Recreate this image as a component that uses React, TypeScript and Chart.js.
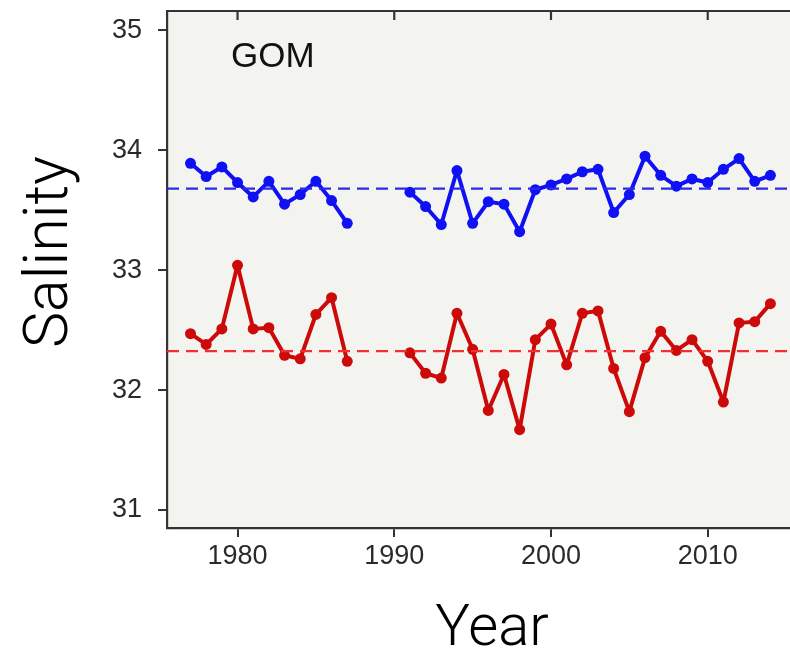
import React, { useEffect, useRef } from "react";
import { Chart, registerables } from "chart.js";

Chart.register(...registerables);

const YEARS = [
  1977, 1978, 1979, 1980, 1981, 1982, 1983, 1984, 1985, 1986, 1987,
  1988, 1989, 1990,
  1991, 1992, 1993, 1994, 1995, 1996, 1997, 1998, 1999, 2000,
  2001, 2002, 2003, 2004, 2005, 2006, 2007, 2008, 2009, 2010,
  2011, 2012, 2013, 2014,
];

const BLUE_SALINITY = [
  33.89, 33.78, 33.86, 33.73, 33.61, 33.74, 33.55, 33.63, 33.74, 33.58, 33.39,
  null, null, null,
  33.65, 33.53, 33.38, 33.83, 33.39, 33.57, 33.55, 33.32, 33.67, 33.71,
  33.76, 33.82, 33.84, 33.48, 33.63, 33.95, 33.79, 33.70, 33.76, 33.73,
  33.84, 33.93, 33.74, 33.79,
];

const RED_SALINITY = [
  32.47, 32.38, 32.51, 33.04, 32.51, 32.52, 32.29, 32.26, 32.63, 32.77, 32.24,
  null, null, null,
  32.31, 32.14, 32.10, 32.64, 32.34, 31.83, 32.13, 31.67, 32.42, 32.55,
  32.21, 32.64, 32.66, 32.18, 31.82, 32.27, 32.49, 32.33, 32.42, 32.24,
  31.90, 32.56, 32.57, 32.72,
];

const BLUE_MEAN = 33.68;
const RED_MEAN = 32.325;

const X_TICKS = [1980, 1990, 2000, 2010];
const Y_TICKS = [31, 32, 33, 34, 35];
const X_MIN = 1975.5;
const X_MAX = 2015.25;
const Y_MIN = 30.85;
const Y_MAX = 35.16;

const FRAME = "#333333";
const TEXT = "#2a2a2a";
const BLUE = "#1010f5";
const RED = "#cc0a0a";
const BLUE_DASH = "#2a2ae8";
const RED_DASH = "#f03030";
const TICK_FONT = { family: "'Liberation Sans', Arial, sans-serif", size: 27 };

export default function App() {
  const ref = useRef<HTMLCanvasElement | null>(null);

  useEffect(() => {
    if (!ref.current) return;

    const frame = {
      id: "frame",
      beforeDraw(chart: any) {
        const { ctx, chartArea } = chart;
        ctx.save();
        ctx.fillStyle = "#f3f4ef";
        ctx.fillRect(chartArea.left, chartArea.top, chartArea.right - chartArea.left, chartArea.bottom - chartArea.top);
        ctx.restore();
      },
      afterDraw(chart: any) {
        const { ctx, chartArea } = chart;
        const xs = chart.scales.x;
        ctx.save();
        ctx.strokeStyle = FRAME;
        ctx.lineWidth = 2.2;
        ctx.beginPath();
        ctx.moveTo(chartArea.left - 1, chartArea.top);
        ctx.lineTo(chartArea.right, chartArea.top);
        ctx.stroke();
        for (const t of X_TICKS) {
          const px = xs.getPixelForValue(t);
          ctx.beginPath();
          ctx.moveTo(px, chartArea.top);
          ctx.lineTo(px, chartArea.top + 9);
          ctx.stroke();
        }
        ctx.fillStyle = "#111";
        ctx.font = "35px 'Liberation Sans', Arial, sans-serif";
        ctx.textAlign = "left";
        ctx.textBaseline = "alphabetic";
        ctx.fillText("GOM", 231, 67);

        ctx.fillStyle = "#000";
        ctx.font = "300 58px Roboto, sans-serif";
        ctx.textAlign = "center";
        ctx.fillText("Year", 492, 645);
        ctx.font = "300 61px Roboto, sans-serif";
        ctx.translate(67, 252);
        ctx.rotate(-Math.PI / 2);
        ctx.fillText("Salinity", 0, 0);
        ctx.restore();
      },
    };

    const pts = (vals: (number | null)[]) => YEARS.map((y, i) => ({ x: y, y: vals[i] }));

    const chart = new Chart(ref.current, {
      type: "line",
      data: {
        datasets: [
          {
            data: [{ x: X_MIN, y: BLUE_MEAN }, { x: X_MAX, y: BLUE_MEAN }],
            borderColor: BLUE_DASH,
            borderWidth: 2.2,
            borderDash: [12, 7],
            pointRadius: 0,
          },
          {
            data: [{ x: X_MIN, y: RED_MEAN }, { x: X_MAX, y: RED_MEAN }],
            borderColor: RED_DASH,
            borderWidth: 2.2,
            borderDash: [12, 7],
            pointRadius: 0,
          },
          {
            data: pts(BLUE_SALINITY) as any,
            borderColor: BLUE,
            backgroundColor: BLUE,
            borderWidth: 4,
            borderJoinStyle: "round",
            borderCapStyle: "round",
            pointRadius: 5.5,
            pointBorderWidth: 0,
            pointBackgroundColor: BLUE,
            spanGaps: false,
          },
          {
            data: pts(RED_SALINITY) as any,
            borderColor: RED,
            backgroundColor: RED,
            borderWidth: 4,
            borderJoinStyle: "round",
            borderCapStyle: "round",
            pointRadius: 5.5,
            pointBorderWidth: 0,
            pointBackgroundColor: RED,
            spanGaps: false,
          },
        ],
      },
      options: {
        responsive: false,
        animation: false,
        devicePixelRatio: 1,
        layout: { autoPadding: false, padding: { left: 0, right: 0, top: 11, bottom: 0 } },
        plugins: { legend: { display: false }, tooltip: { enabled: false } },
        scales: {
          x: {
            type: "linear",
            min: X_MIN,
            max: X_MAX,
            afterBuildTicks: (s: any) => {
              s.ticks = X_TICKS.map((v) => ({ value: v }));
            },
            afterFit: (s: any) => {
              s.height = 125;
              s.paddingLeft = 0;
              s.paddingRight = 0;
              s.paddingTop = 0;
              s.paddingBottom = 0;
            },
            grid: { drawOnChartArea: false, drawTicks: true, tickLength: 9, color: FRAME, lineWidth: 2 },
            border: { display: true, color: FRAME, width: 2.2 },
            ticks: {
              color: TEXT,
              font: TICK_FONT,
              padding: 3,
              maxRotation: 0,
              callback: (v: any) => String(v),
            },
          },
          y: {
            type: "linear",
            min: Y_MIN,
            max: Y_MAX,
            afterBuildTicks: (s: any) => {
              s.ticks = Y_TICKS.map((v) => ({ value: v }));
            },
            afterFit: (s: any) => {
              s.width = 167;
              s.paddingLeft = 0;
              s.paddingRight = 0;
              s.paddingTop = 0;
              s.paddingBottom = 0;
            },
            grid: { drawOnChartArea: false, drawTicks: true, tickLength: 9, color: FRAME, lineWidth: 2 },
            border: { display: true, color: FRAME, width: 2.2 },
            ticks: {
              color: TEXT,
              font: TICK_FONT,
              padding: 16,
              callback: (v: any) => String(v),
            },
          },
        },
      },
      plugins: [frame],
    });

    return () => chart.destroy();
  }, []);

  return (
    <div style={{ position: "absolute", left: 0, top: 0, width: 790, height: 653, background: "#fff" }}>
      <canvas ref={ref} width={790} height={653} style={{ display: "block" }} />
    </div>
  );
}
